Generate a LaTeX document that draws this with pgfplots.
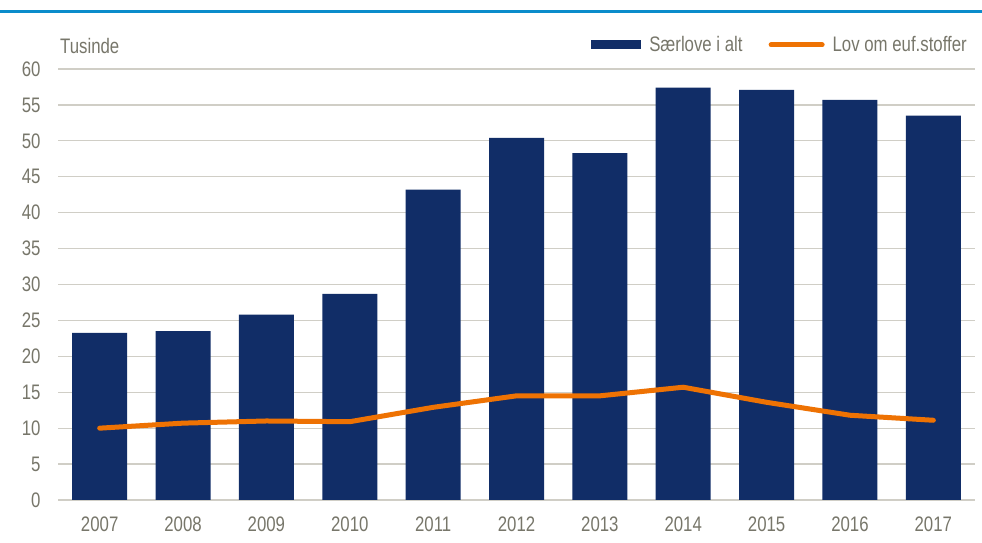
\documentclass[border=0pt]{standalone}
\usepackage{pgfplots}
\pgfplotsset{compat=1.18}
\usepackage{fontspec}
\setmainfont{Liberation Sans}[FakeStretch=0.8]
\definecolor{navy}{HTML}{112D67}
\definecolor{orng}{HTML}{EE7203}
\definecolor{txt}{HTML}{77766A}
\definecolor{gridc}{HTML}{D0CEC6}
\definecolor{topblue}{HTML}{0A8CCB}
\begin{document}
\begin{tikzpicture}[x=1pt,y=1pt]
\useasboundingbox (0,0) rectangle (982,543);
\draw[topblue, line width=3pt] (0,531) -- (982,531);
\begin{axis}[
  at={(58pt,43pt)}, anchor=south west,
  scale only axis, width=917pt, height=431pt,
  xmin=-0.5, xmax=10.5, ymin=0, ymax=60,
  xtick={0,...,10},
  xticklabels={2007,2008,2009,2010,2011,2012,2013,2014,2015,2016,2017},
  ytick={0,5,...,60},
  axis x line*=bottom, axis y line*=left,
  x axis line style={gridc, line width=1.5pt, -},
  y axis line style={draw=none},
  major tick length=0pt,
  ymajorgrids, grid style={gridc, line width=1.3pt},
  tick label style={font=\fontsize{21}{25}\selectfont, text=txt},
  yticklabel style={xshift=-14pt},
  xticklabel style={yshift=-13pt},
  /pgf/number format/assume math mode=true,
  legend style={at={(axis description cs:1,1)}, anchor=east, xshift=-3pt, yshift=24pt,
    draw=none, fill=none, font=\fontsize{21}{25}\selectfont, text=txt,
    legend columns=2,
    /tikz/every odd column/.append style={column sep=6pt},
    /tikz/every even column/.append style={column sep=24pt}},
  legend cell align=left,
]
\addplot[ybar, bar width=55pt, fill=navy, draw=none,
  legend image code/.code={\fill[navy] (0pt,-4.5pt) rectangle (50pt,4.5pt);}]
  coordinates {(0,23.25) (1,23.5) (2,25.8) (3,28.7) (4,43.2) (5,50.4) (6,48.3) (7,57.4) (8,57.1) (9,55.7) (10,53.5)};
\addlegendentry{Særlove i alt}
\addplot[orng, line width=5pt, line cap=round, line join=round, mark=none,
  legend image code/.code={\draw[orng, line width=5pt, line cap=round] (2.5pt,0pt) -- (53.5pt,0pt);}]
  coordinates {(0,10.0) (1,10.7) (2,11.0) (3,10.9) (4,12.9) (5,14.5) (6,14.5) (7,15.7) (8,13.6) (9,11.8) (10,11.1)};
\addlegendentry{Lov om euf.stoffer}
\end{axis}
\node[anchor=base west, inner sep=0pt, text=txt, font=\fontsize{21}{25}\selectfont] at (60,489) {Tusinde};
\end{tikzpicture}
\end{document}
